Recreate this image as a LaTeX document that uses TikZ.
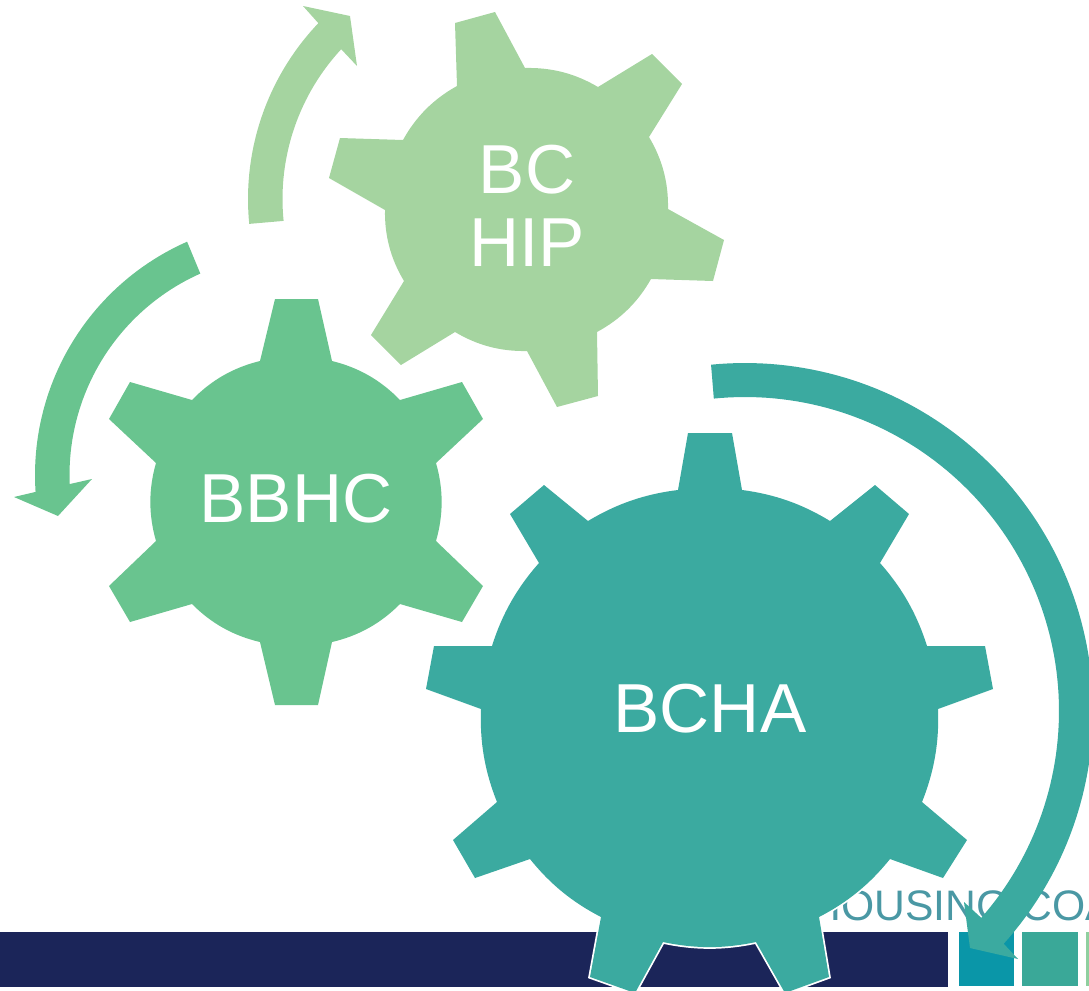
\documentclass[tikz,border=0pt]{standalone}
\usepackage{fontspec}
\setmainfont{Liberation Sans}
\definecolor{bigteal}{HTML}{3BAAA0}
\definecolor{midgreen}{HTML}{69C48F}
\definecolor{lightgreen}{HTML}{A5D4A0}
\definecolor{navyband}{HTML}{1B2559}
\definecolor{squareA}{HTML}{0A96A8}
\definecolor{squareB}{HTML}{3AA898}
\definecolor{squareC}{HTML}{8FCF9F}
\definecolor{logotext}{HTML}{4A98A4}
\tikzset{
  outlinedgear/.style={preaction={draw=white,line width=2.6pt,line join=miter}},
  gearlabel/.style={text=white,align=center,font=\fontsize{52}{55}\selectfont,inner sep=0pt},
  b/.style={bend left=#1,looseness=0.9},
}
\begin{document}
\begin{tikzpicture}[x=0.75pt,y=-0.75pt]
\useasboundingbox (0,0) rectangle (1089,990);
\clip (0,0) rectangle (1089,990);
% logo strip
\fill[navyband] (0,932) rectangle (948,987);
\fill[squareA] (959,932) rectangle (1014,986);
\fill[squareB] (1022,932) rectangle (1078,986);
\fill[squareC] (1086,932) rectangle (1089,986);
\node[anchor=base west,inner sep=0pt,text=logotext,font=\fontsize{32}{34}\selectfont] (logo) at (810,920) {HOUSING COA};
% arrows
\fill[lightgreen]
  plot[domain=174.4:223.6,samples=40] ({503+255*cos(\x)},{199+255*sin(\x)})
  -- (303,6) -- (350,16) -- (357,66) -- (341,49)
  -- plot[domain=222.8:174.3,samples=40] ({503+220.5*cos(\x)},{199+220.5*sin(\x)}) -- cycle;
\fill[midgreen]
  plot[domain=246.2:176.2,samples=50] ({290+255*cos(\x)},{475+255*sin(\x)})
  -- (14,497) -- (58,516) -- (92,479) -- (70,484)
  -- plot[domain=177.7:246,samples=50] ({290+220.5*cos(\x)},{475+220.5*sin(\x)}) -- cycle;
\fill[bigteal]
  plot[domain=-95.7:41.2,samples=100] ({745+314*cos(\x)},{711+314*sin(\x)})
  -- (964,902) -- (970,948) -- (1018,959) -- (1003,943)
  -- plot[domain=42:-95.6,samples=100] ({745+348*cos(\x)},{711+348*sin(\x)}) -- cycle;
% BC HIP gear
\fill[lightgreen]
  (457,86) -- (455,23) -- (495,12) -- (525,68) to[b=16] (598,87)
  -- (652,54) -- (682,84) -- (649,137) to[b=16] (668,209)
  -- (724,240) -- (713,281) -- (651,279) to[b=16] (597,332)
  -- (598,396) -- (557,407) -- (527,351) to[b=16] (455,332)
  -- (401,365) -- (371,335) -- (404,281) to[b=16] (385,210)
  -- (329,178) -- (340,138) -- (403,140) to[b=16] cycle;
\node[gearlabel] (bchip) at (527,206) {BC\\HIP};
% BBHC gear
\fill[midgreen]
  (260,361) -- (275,299) -- (318,299) -- (332,361) to[b=16] (400,400)
  -- (462,382) -- (483,419) -- (436,463) to[b=16] (436,541)
  -- (483,586) -- (462,622) -- (400,604) to[b=16] (332,642)
  -- (318,705) -- (275,705) -- (260,642) to[b=16] (192,604)
  -- (130,622) -- (109,586) -- (156,541) to[b=16] (156,463)
  -- (109,419) -- (130,382) -- (192,400) to[b=16] cycle;
\node[gearlabel] (bbhc) at (296,499) {BBHC};
% BCHA gear
\fill[bigteal,outlinedgear]
  (678,490) -- (688,433) -- (732,433) -- (742,490) to[b=12] (830,521)
  -- (875,485) -- (909,514) -- (880,563) to[b=12] (927,646)
  -- (985,646) -- (993,689) -- (938,709) to[b=12] (922,802)
  -- (967,840) -- (943,878) -- (890,859) to[b=12] (819,917)
  -- (829,977) -- (785,993) -- (756,942) to[b=12] (663,942)
  -- (635,993) -- (590,977) -- (601,917) to[b=12] (530,859)
  -- (475,878) -- (453,840) -- (497,802) to[b=12] (481,709)
  -- (426,689) -- (434,646) -- (492,646) to[b=12] (539,563)
  -- (510,514) -- (544,485) -- (588,521) to[b=12] cycle;
\node[gearlabel] (bcha) at (710,709) {BCHA};
\end{tikzpicture}
\end{document}
